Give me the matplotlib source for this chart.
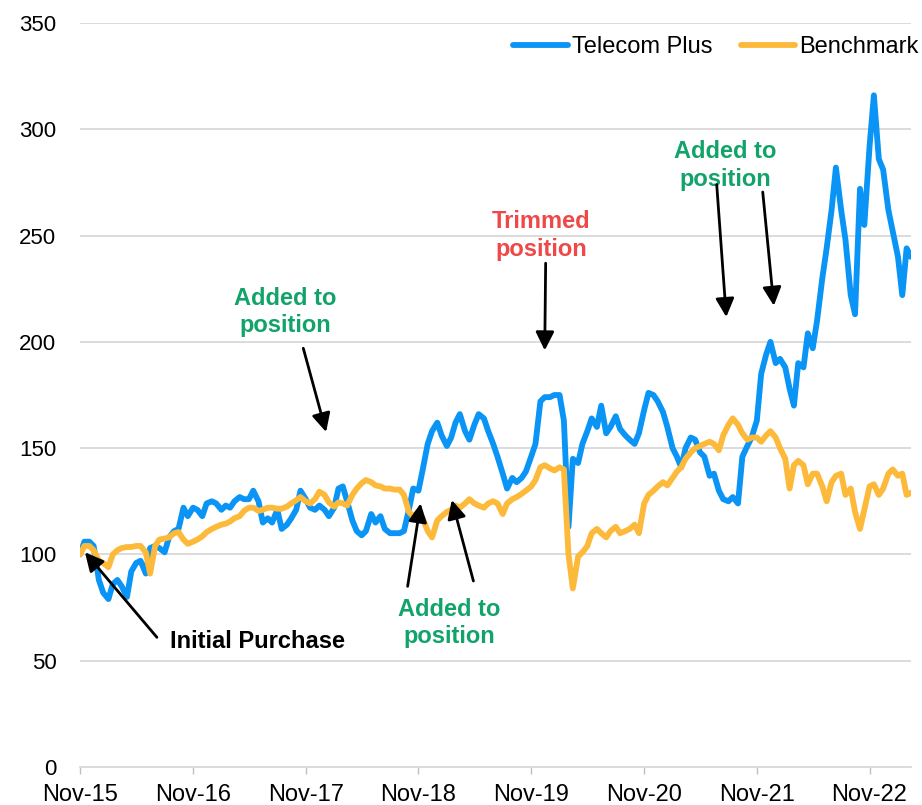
import matplotlib.pyplot as plt
import matplotlib.dates as mdates
import pandas as pd

# ---- Data: semi-monthly readings, rebased to 100 at Nov-15 ----
dates = pd.date_range("2015-11-01", periods=178, freq="SMS")

telecom_plus = [
    # Nov-15 .. Oct-16
    100, 106, 106, 104, 88, 82, 79, 86, 88, 85, 80, 92,
    96, 97, 91, 103, 104, 103, 101, 108, 111, 112, 122, 118,
    # Nov-16 .. Apr-17
    122, 121, 118, 124, 125, 124, 121, 123, 122, 125, 127, 126,
    # May-17 .. Oct-18
    126, 130, 125, 115, 117, 115, 121, 112, 114, 117, 121, 130,
    126, 122, 121, 123, 121, 118, 122, 131, 132, 125, 116, 111,
    109, 111, 119, 115, 118, 112, 110, 110, 110, 111, 121, 131,
    # Nov-18 .. May-20
    130, 140, 152, 158, 162, 156, 151, 155, 162, 166, 158, 154,
    161, 166, 164, 158, 152, 146, 138, 131, 136, 134, 136, 139,
    146, 152, 172, 174, 174, 175, 175, 163, 113, 145, 143, 152, 158,
    # May-20 .. Nov-21
    164, 160, 170, 157, 160, 165, 159, 156, 154, 152, 157, 168,
    176, 175, 172, 167, 160, 150, 146, 141, 150, 155, 154, 148,
    146, 137, 138, 130, 126, 125, 127, 124, 146, 151, 155, 163,
    # Nov-21 .. Mar-23
    185, 194, 200, 190, 192, 188, 178, 170, 190, 188, 204, 197,
    210, 230, 244, 262, 282, 262, 248, 222, 213, 272, 255, 292,
    316, 286, 281, 262, 252, 240, 222, 244, 240,
]

benchmark = [
    100, 104, 104, 102, 97, 96, 94, 100, 102, 103, 103.5, 103.5,
    104, 104, 101, 91, 104, 107, 107.5, 108, 110, 110.5, 107, 105,
    106, 107, 108.5, 110.5, 112, 113, 114, 114.5, 115.5, 117, 118, 120.5,
    122, 122, 120.5, 121, 122, 122, 121.5, 121.5, 122.5, 124, 125.5, 127,
    125, 124, 126, 129.5, 128, 124.5, 122.5, 124.5, 124, 123, 128, 131,
    133.5, 135, 134, 132.5, 132, 131, 131, 130.5, 130.5, 128, 120, 118,
    120, 117, 111, 108, 116, 118, 120, 121, 123, 122, 124, 126,
    124, 123, 122, 124, 125, 124, 119, 124, 126, 127, 128.5, 130,
    132, 135, 141, 142, 140.5, 139.5, 141, 140, 100, 84, 99, 101, 104,
    110, 112, 110, 108, 111, 113, 110, 111, 112, 114, 110, 124,
    128, 130, 132, 134, 132.5, 136, 139, 141, 145, 148, 150, 151,
    152, 153, 152, 149, 156, 161, 164, 161, 157, 154, 155, 155,
    153, 156, 158, 155, 150, 145, 131, 142, 144, 142, 133, 138,
    138, 132, 125, 134, 137, 138, 128, 131, 120, 112, 121, 132,
    133, 128, 131, 138, 140, 137, 138, 128, 129,
]

BLUE = "#0A94F5"
ORANGE = "#FDB93A"
GREEN = "#12A36B"
RED = "#EE4848"

plt.rcParams["font.family"] = ["Liberation Sans", "DejaVu Sans"]

fig = plt.figure(figsize=(9.22, 8.05), dpi=100)
ax = fig.add_axes([0.0868, 0.0472, 0.9012, 0.9242])

ax.plot(dates, telecom_plus, color=BLUE, lw=4.2, label="Telecom Plus",
        solid_joinstyle="round", solid_capstyle="round")
ax.plot(dates, benchmark, color=ORANGE, lw=4.2, label="Benchmark",
        solid_joinstyle="round", solid_capstyle="round")

# ---- Axes ----
ax.set_ylim(0, 350)
ax.set_yticks(range(0, 351, 50))
ax.set_xlim(dates[0], dates[-1])
ax.xaxis.set_major_locator(mdates.MonthLocator(bymonth=11))
ax.xaxis.set_major_formatter(mdates.DateFormatter("%b-%y"))

ax.grid(axis="y", color="#d9d9d9", lw=1.3)
ax.set_axisbelow(True)
for s in ["top", "right", "left"]:
    ax.spines[s].set_visible(False)
ax.spines["bottom"].set_color("#d9d9d9")
ax.spines["bottom"].set_linewidth(1.3)
ax.tick_params(axis="y", length=0, pad=17, labelsize=16)
ax.tick_params(axis="x", length=5, width=1, color="#bfbfbf", pad=7, labelsize=17)

fig.legend(loc="center right", bbox_to_anchor=(0.996, 0.941), ncol=2, frameon=False,
           fontsize=17, handlelength=2.3, handletextpad=0.17, columnspacing=1.2,
           borderaxespad=0, borderpad=0)

# ---- Annotations ----
arrow = dict(arrowstyle="-|>", color="black", lw=2, mutation_scale=28, shrinkA=0, shrinkB=0)
T = pd.Timestamp

def arr(tail, tip):
    ax.annotate("", xy=tip, xytext=tail, arrowprops=arrow)

ax.text(T("2016-08-19"), 59, "Initial Purchase", fontsize=17, fontweight="bold",
        ha="left", va="center", color="black")
arr((T("2016-07-07"), 61), (T("2015-11-17"), 101))

ax.text(T("2017-08-28"), 214, "Added to\nposition", fontsize=17, fontweight="bold",
        ha="center", va="center", color=GREEN, linespacing=1.25)
arr((T("2017-10-24"), 197), (T("2018-01-06"), 157.6))

ax.text(T("2019-02-10"), 67.7, "Added to\nposition", fontsize=17, fontweight="bold",
        ha="center", va="center", color=GREEN, linespacing=1.25)
arr((T("2018-09-27"), 85), (T("2018-11-08"), 124))
arr((T("2019-04-28"), 87.5), (T("2019-02-17"), 125.6))

ax.text(T("2019-12-04"), 250, "Trimmed\nposition", fontsize=17, fontweight="bold",
        ha="center", va="center", color=RED, linespacing=1.25)
arr((T("2019-12-18"), 237), (T("2019-12-15"), 196))

ax.text(T("2021-07-22"), 283, "Added to\nposition", fontsize=17, fontweight="bold",
        ha="center", va="center", color=GREEN, linespacing=1.25)
arr((T("2021-06-24"), 274), (T("2021-07-25"), 211.7))
arr((T("2021-11-20"), 270.5), (T("2021-12-26"), 217))

fig.savefig("out.png", dpi=100)
